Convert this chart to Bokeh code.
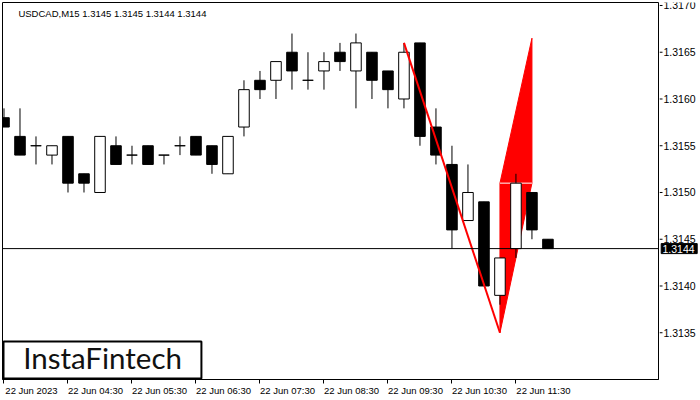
from bokeh.plotting import figure
from bokeh.layouts import row
from bokeh.models import Range1d, FixedTicker, Span, Label, BoxAnnotation, ColumnDataSource, LinearAxis
from bokeh.core.properties import value
from bokeh.embed import file_html
from bokeh.resources import INLINE

# ---- data ----
bar_index = list(range(35))
opens  = [1.3158, 1.3156, 1.3155, 1.3154, 1.3156, 1.3152, 1.3150, 1.3155, 1.3154, 1.3155,
          1.3154, 1.3155, 1.3156, 1.3155, 1.3152, 1.3157, 1.3162, 1.3162, 1.3165, 1.3162,
          1.3163, 1.3165, 1.3163, 1.3165, 1.3163, 1.3160, 1.3166, 1.3157, 1.3153, 1.3147,
          1.3149, 1.3139, 1.3144, 1.3150, 1.3145]
highs  = [1.3159, 1.3159, 1.3156, 1.3155, 1.3156, 1.3152, 1.3156, 1.3156, 1.3155, 1.3155,
          1.3154, 1.3156, 1.3156, 1.3155, 1.3156, 1.3162, 1.3163, 1.3164, 1.3167, 1.3165,
          1.3165, 1.3166, 1.3167, 1.3165, 1.3163, 1.3166, 1.3166, 1.3159, 1.3155, 1.3153,
          1.3149, 1.3143, 1.3152, 1.3150, 1.3145]
lows   = [1.3157, 1.3154, 1.3153, 1.3153, 1.3150, 1.3150, 1.3150, 1.3153, 1.3153, 1.3153,
          1.3153, 1.3154, 1.3154, 1.3152, 1.3152, 1.3156, 1.3160, 1.3160, 1.3161, 1.3161,
          1.3161, 1.3163, 1.3159, 1.3160, 1.3159, 1.3159, 1.3155, 1.3153, 1.3144, 1.3147,
          1.3140, 1.3138, 1.3143, 1.3145, 1.3144]
closes = [1.3157, 1.3154, 1.3155, 1.3155, 1.3151, 1.3151, 1.3156, 1.3153, 1.3154, 1.3153,
          1.3154, 1.3155, 1.3154, 1.3153, 1.3156, 1.3161, 1.3161, 1.3164, 1.3163, 1.3162,
          1.3164, 1.3164, 1.3166, 1.3162, 1.3161, 1.3165, 1.3156, 1.3154, 1.3146, 1.3150,
          1.3140, 1.3143, 1.3151, 1.3146, 1.3144]

time_tick_bars = [0, 4, 8, 12, 16, 20, 24, 28, 32]
time_tick_labels = ["22 Jun 2023", "22 Jun 04:30", "22 Jun 05:30", "22 Jun 06:30",
                    "22 Jun 07:30", "22 Jun 08:30", "22 Jun 09:30", "22 Jun 10:30",
                    "22 Jun 11:30"]
price_ticks = [1.3135, 1.3140, 1.3145, 1.3150, 1.3155, 1.3160, 1.3165, 1.3170]

# pattern: pole and flag
pole_x = [25, 31]
pole_y = [1.3166, 1.3135]
flag_x = [31, 31, 33, 33]
flag_y = [1.3135, 1.3151, 1.31665, 1.3151]
flag_level = 1.3151
bid = 1.3144
title_text = "USDCAD,M15  1.3145 1.3145 1.3144 1.3144"
logo_text = "InstaFintech"

FONT = "Liberation Sans"
LABEL_SHIFT = 1.72   # half a time label, in bars (labels start at their tick)
Y_RANGE = Range1d(1.3130, 1.317032)

p = figure(frame_width=656, frame_height=377, output_backend="svg", toolbar_location=None,
           x_range=Range1d(-0.09375, 40.91), y_range=Y_RANGE,
           x_axis_location=None, y_axis_location=None,
           min_border_left=2, min_border_top=2, min_border_right=1, min_border_bottom=21)
p.xgrid.visible = False
p.ygrid.visible = False
p.outline_line_color = "black"
p.outline_line_width = 1
p.background_fill_color = "white"
p.border_fill_color = "white"

# time axis: labels start at their tick; tick marks drawn as minor ticks
label_pos = [b + LABEL_SHIFT for b in time_tick_bars]
xax = LinearAxis(ticker=FixedTicker(ticks=label_pos, minor_ticks=time_tick_bars))
xax.major_label_overrides = {pos: l for pos, l in zip(label_pos, time_tick_labels)}
xax.major_tick_line_color = None
xax.major_tick_in = 0
xax.major_tick_out = 3
xax.minor_tick_line_color = "black"
xax.minor_tick_in = 0
xax.minor_tick_out = 4
xax.axis_line_color = "black"
xax.major_label_standoff = 1
xax.major_label_text_font = FONT
xax.major_label_text_font_size = "9.5px"
xax.major_label_text_color = "black"
p.add_layout(xax, "below")

# flag fill (behind candles)
p.patch(flag_x, flag_y, fill_color="red", line_color="red", line_width=1)
p.line([flag_x[0], flag_x[2]], [flag_level, flag_level], line_color="white", line_width=1)

# bid line
p.add_layout(Span(location=bid, dimension="width", line_color="black", line_width=1))

# candles
bull = [c >= o for o, c in zip(opens, closes)]
src = ColumnDataSource(dict(
    x=bar_index, high=highs, low=lows,
    top=[max(o, c) for o, c in zip(opens, closes)],
    bottom=[min(o, c) for o, c in zip(opens, closes)],
    fill=["white" if b else "black" for b in bull],
))
p.segment(x0="x", y0="low", x1="x", y1="high", source=src, line_color="black", line_width=1)
p.vbar(x="x", width=0.66, top="top", bottom="bottom", source=src,
       fill_color="fill", line_color="black", line_width=1)

# pole line (on top)
p.line(pole_x, pole_y, line_color="red", line_width=2)

# title
p.add_layout(Label(x=0.9, y=1.31697, text=title_text, text_font=FONT,
                   text_font_size="9.5px", text_color="black", text_baseline="top"))

# logo box
p.add_layout(BoxAnnotation(left=-0.031, right=12.34, bottom=1.313011, top=1.313406,
                           fill_color="white", fill_alpha=1.0,
                           line_color="black", line_alpha=1.0, line_width=2))
p.add_layout(Label(x=6.16, y=1.313048, text=logo_text, text_font="Lato",
                   text_font_size="29.5px", text_color="#111111", text_align="center",
                   text_baseline="bottom"))

# ---- price scale strip (shares the price range) ----
s = figure(width=41, frame_height=377, output_backend="svg", toolbar_location=None,
           x_range=Range1d(0, 41), y_range=Y_RANGE,
           x_axis_location=None, y_axis_location=None,
           min_border_left=0, min_border_right=0, min_border_top=2, min_border_bottom=21)
s.xgrid.visible = False
s.ygrid.visible = False
s.outline_line_color = None
s.background_fill_color = "white"
s.border_fill_color = "white"

ps = ColumnDataSource(dict(y=price_ticks, txt=[f"{t:.4f}" for t in price_ticks]))
s.segment(x0=0, y0="y", x1=3, y1="y", source=ps, line_color="black", line_width=1)
s.text(x=4, y="y", text="txt", source=ps, text_font=value(FONT), text_font_size="10.5px",
       text_color="black", text_baseline="middle", text_align="left")

bs = ColumnDataSource(dict(y=[bid], txt=[f"{bid:.4f}"]))
s.rect(x=19.7, y="y", width=36, height=0.000107, source=bs,
       fill_color="black", line_color="black")
s.text(x=3, y="y", text="txt", source=bs, text_font=value(FONT), text_font_size="10.5px",
       text_color="white", text_baseline="middle", text_align="left")

layout = row(p, s, spacing=0)
open("out.html", "w").write(file_html(layout, INLINE))
